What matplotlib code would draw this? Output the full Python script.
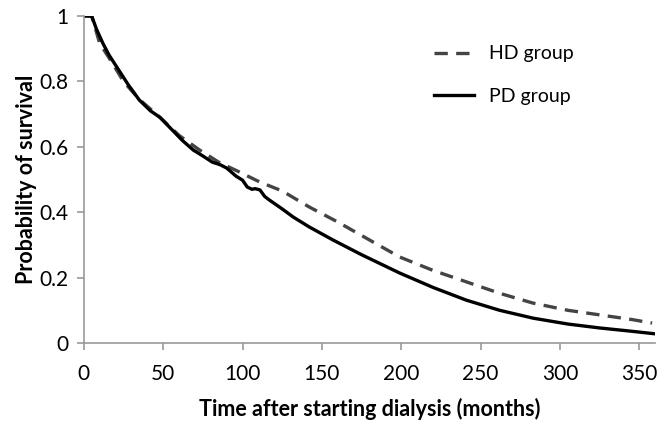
import matplotlib
matplotlib.use("Agg")
import matplotlib.pyplot as plt

plt.rcParams['font.family'] = ['Lato', 'DejaVu Sans']

# Kaplan-Meier style survival curves
pd_months = [0, 5, 8, 12, 16, 22, 28, 35, 42, 48, 55, 62, 69, 75, 81, 86, 90, 96, 100,
             103, 106, 108, 111, 114, 117, 125, 132, 142, 157, 175, 199, 220, 241, 262,
             283, 305, 325, 345, 360]
pd_surv = [1.0, 1.0, 0.96, 0.917, 0.88, 0.835, 0.79, 0.743, 0.71, 0.69, 0.655, 0.62, 0.59,
           0.572, 0.553, 0.545, 0.535, 0.51, 0.498, 0.477, 0.47, 0.472, 0.468, 0.448, 0.437,
           0.41, 0.385, 0.355, 0.315, 0.27, 0.214, 0.17, 0.131, 0.10, 0.076, 0.058, 0.046,
           0.036, 0.028]

hd_months = [0, 5, 10, 18, 25, 35, 48, 60, 73, 85, 98, 111, 125, 142, 160, 180, 199, 220,
             241, 262, 283, 305, 325, 345, 358]
hd_surv = [1.0, 1.0, 0.917, 0.856, 0.80, 0.745, 0.69, 0.635, 0.59, 0.553, 0.523, 0.492,
           0.465, 0.416, 0.37, 0.315, 0.263, 0.222, 0.187, 0.152, 0.122, 0.10, 0.086,
           0.072, 0.061]

x_ticks = [0, 50, 100, 150, 200, 250, 300, 350]
y_ticks = [0, 0.2, 0.4, 0.6, 0.8, 1.0]
y_labels = ['0', '0.2', '0.4', '0.6', '0.8', '1']

fig = plt.figure(figsize=(6.7, 4.32), dpi=100)
ax = fig.add_axes([0.125, 0.206, 0.853, 0.757])

ax.plot(hd_months, hd_surv, color='#444444', lw=2.4, dashes=(4, 2.5), label='HD group')
ax.plot(pd_months, pd_surv, color='black', lw=2.4, label='PD group')

ax.set_xlim(0, 360)
ax.set_ylim(0, 1)
ax.set_xticks(x_ticks)
ax.set_yticks(y_ticks)
ax.set_yticklabels(y_labels)

for s in ['top', 'right']:
    ax.spines[s].set_visible(False)
for s in ['left', 'bottom']:
    ax.spines[s].set_color('#999999')
    ax.spines[s].set_linewidth(1.2)
ax.tick_params(axis='both', colors='#999999', labelcolor='black', labelsize=15,
               length=5, width=1.2)
ax.tick_params(axis='x', pad=10)
ax.tick_params(axis='y', pad=6)

ax.set_xlabel('Time after starting dialysis (months)', fontsize=15.5, fontweight='bold',
              labelpad=10)
ax.set_ylabel('Probability of survival', fontsize=15.5, fontweight='bold', labelpad=2)

leg = ax.legend(loc='upper left', bbox_to_anchor=(0.612, 0.91), frameon=False, fontsize=14,
                handlelength=2.1, labelspacing=1.3, handletextpad=0.75, borderpad=0,
                borderaxespad=0)

fig.savefig('out.png', dpi=100)
